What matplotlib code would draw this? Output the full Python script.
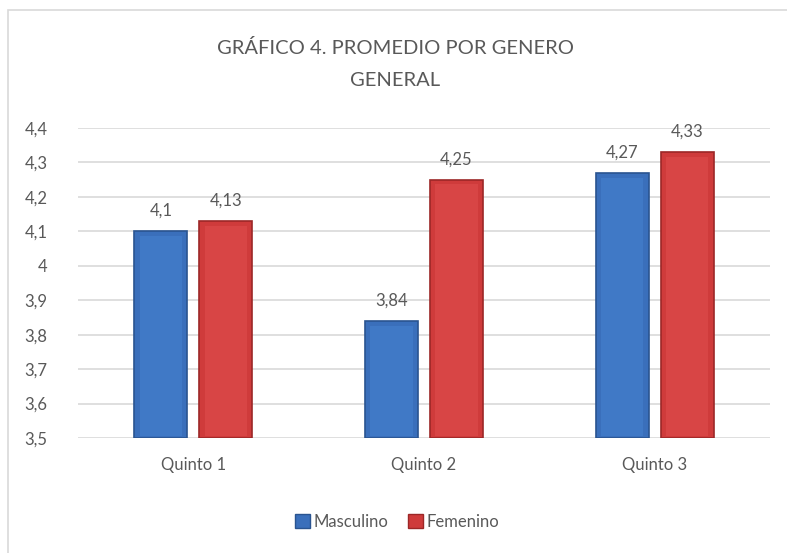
import numpy as np
import matplotlib
matplotlib.use("Agg")
import matplotlib.pyplot as plt
from matplotlib.patches import Rectangle

categorias = ["Quinto 1", "Quinto 2", "Quinto 3"]
masculino = [4.1, 3.84, 4.27]
femenino = [4.13, 4.25, 4.33]
etiquetas_m = ["4,1", "3,84", "4,27"]
etiquetas_f = ["4,13", "4,25", "4,33"]
ticks_y = [3.5, 3.6, 3.7, 3.8, 3.9, 4.0, 4.1, 4.2, 4.3, 4.4]
ticks_y_txt = ["3,5", "3,6", "3,7", "3,8", "3,9", "4", "4,1", "4,2", "4,3", "4,4"]

plt.rcParams['font.family'] = ['Lato', 'DejaVu Sans']
gris = '#595959'

fig = plt.figure(figsize=(7.87, 5.53), dpi=100)
fig.patches.append(Rectangle((8 / 787, -0.1), 1.2, 1 - 10 / 553 + 0.1,
                             transform=fig.transFigure, fill=False,
                             edgecolor='#d9d9d9', linewidth=1.2))
ax = fig.add_axes([0.0991, 0.208, 0.8793, 0.5606])

x = np.arange(len(categorias))
w = 0.23
off = 0.141
base = 3.5

# (relleno, borde, centro)
colores = [('#3a6fbb', '#2a5490', '#4079c6'), ('#cf3b3b', '#9c2727', '#d84545')]
for vals, dx, (c, ce, ci) in [(masculino, -off, colores[0]), (femenino, off, colores[1])]:
    alto = np.array(vals) - base
    ax.bar(x + dx, alto, w, bottom=base, color=c, edgecolor=ce, linewidth=1.2, zorder=3)
    ax.bar(x + dx, alto - 0.02, w * 0.8, bottom=base + 0.006, color=ci, linewidth=0, zorder=4)

for xi, v, t in zip(x - off, masculino, etiquetas_m):
    ax.annotate(t, (xi, v), xytext=(0, 9), textcoords='offset points',
                ha='center', va='bottom', fontsize=12, color=gris)
for xi, v, t in zip(x + off, femenino, etiquetas_f):
    ax.annotate(t, (xi, v), xytext=(0, 9), textcoords='offset points',
                ha='center', va='bottom', fontsize=12, color=gris)

ax.set_xlim(-0.5, 2.5)
ax.set_ylim(3.5, 4.4)
ax.set_yticks(ticks_y)
ax.set_yticklabels(ticks_y_txt, fontsize=12, color=gris)
ax.set_xticks(x)
ax.set_xticklabels(categorias, fontsize=12, color=gris)
ax.tick_params(axis='both', length=0)
ax.tick_params(axis='y', pad=22)
ax.tick_params(axis='x', pad=14)
for s in ax.spines.values():
    s.set_visible(False)
ax.grid(axis='y', color='#d9d9d9', linewidth=1.2, zorder=0)
ax.set_axisbelow(True)

fig.text(0.502, 0.913, "GRÁFICO 4. PROMEDIO POR GENERO", ha='center', va='center',
         fontsize=14.5, color=gris)
fig.text(0.502, 0.855, "GENERAL", ha='center', va='center', fontsize=14.5, color=gris)

h1 = Rectangle((0, 0), 1, 1, facecolor='#3a6fbb', edgecolor='#2a5490')
h2 = Rectangle((0, 0), 1, 1, facecolor='#cf3b3b', edgecolor='#9c2727')
fig.legend([h1, h2], ["Masculino", "Femenino"], loc='center', bbox_to_anchor=(0.505, 0.056),
           ncol=2, frameon=False, fontsize=12, labelcolor=gris, handlelength=0.9,
           handleheight=0.9, handletextpad=0.2, columnspacing=1.2)

fig.savefig("out.png", dpi=100)
